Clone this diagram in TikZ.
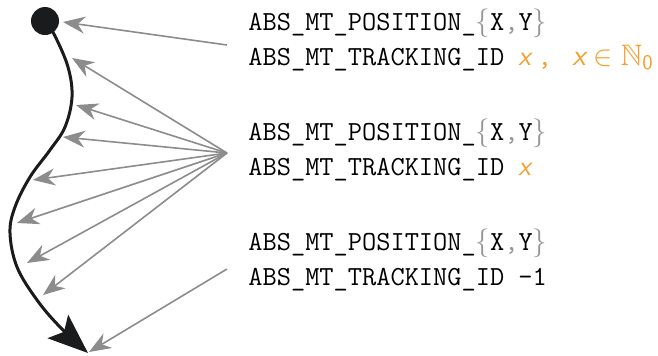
\documentclass[tikz,border=0pt]{standalone}
\usepackage{fontspec}
\usepackage{amssymb}
\usetikzlibrary{arrows.meta}
\definecolor{arrgray}{RGB}{140,140,140}
\definecolor{idorange}{RGB}{245,158,40}
\definecolor{bracegray}{RGB}{150,150,150}
\definecolor{dotblack}{RGB}{25,27,28}
\newcommand{\posline}{ABS\_MT\_POSITION\_{\color{bracegray}$\{$}X{\color{bracegray},}Y{\color{bracegray}$\}$}}
\newcommand{\orx}{{\color{idorange}\textsf{\itshape x}}}
\begin{document}
\begin{tikzpicture}[x=0.5pt,y=-0.5pt,
  txt/.style={anchor=base west,inner sep=0pt,font=\fontsize{13.8}{17.5}\selectfont\ttfamily},
  ptr/.style={draw=arrgray,line width=0.8pt,-{Stealth[length=11pt,width=8.5pt]}},
  track/.style={draw=dotblack,line width=1.5pt,-{Stealth[length=20pt,width=15.5pt,inset=4pt]}}]
\useasboundingbox (0,0) rectangle (658,355);
% texts
\node[txt] (a1) at (248,30) {\posline};
\node[txt] (a2) at (248,65) {ABS\_MT\_TRACKING\_ID \orx\,{\color{idorange},}\hspace{0.75em}{\color{idorange}\fontsize{14.8}{17.5}\selectfont$\textsf{\itshape x}\in\mathbb{N}_{\mathsf{0}}$}};
\node[txt] (b1) at (248,140) {\posline};
\node[txt] (b2) at (248,175) {ABS\_MT\_TRACKING\_ID \orx};
\node[txt] (c1) at (248,250) {\posline};
\node[txt] (c2) at (248,285) {ABS\_MT\_TRACKING\_ID -1};
% sources
\coordinate (s1) at (227,45);
\coordinate (s2) at (227,153);
\coordinate (s3) at (227,269);
% track
\draw[track] plot[smooth,tension=0.6] coordinates {(47,24) (55,36) (68,67) (72,97) (65,127) (50,150) (30,177) (15,207) (10,233) (17,267) (37,300) (60,327) (88,353)};
\node[circle,fill=dotblack,minimum size=14pt,inner sep=0pt] (dot) at (45,21) {};
% tips
\coordinate (t1) at (63,22);
\coordinate (t2) at (72,58);
\coordinate (t3) at (76,105);
\coordinate (t4) at (63,137);
\coordinate (t5) at (33,180);
\coordinate (t6) at (17,223);
\coordinate (t7) at (27,263);
\coordinate (t8) at (43,295);
\coordinate (t9) at (89,352);
\draw[ptr] (s1) -- (t1);
\foreach \i in {2,...,8} \draw[ptr] (s2) -- (t\i);
\draw[ptr] (s3) -- (t9);
\end{tikzpicture}
\end{document}
